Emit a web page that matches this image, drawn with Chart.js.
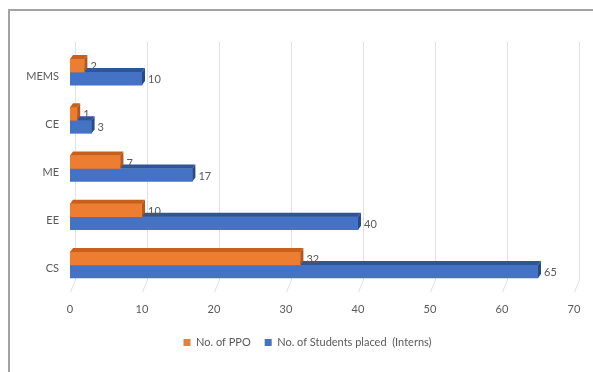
<!DOCTYPE html>
<html>
<head>
<meta charset="utf-8">
<script src="https://cdn.jsdelivr.net/npm/chart.js@4.4.1/dist/chart.umd.min.js"></script>
<style>
  html, body { margin: 0; padding: 0; background: #fff; }
  #wrap { position: relative; width: 593px; height: 372px; overflow: hidden; }
  #frame { position: absolute; left: 8px; top: 9px; width: 700px; height: 500px;
           border-left: 2px solid #a3a3a3; border-top: 2px solid #a3a3a3; }
  canvas { position: absolute; left: 0; top: 0; }
</style>
</head>
<body>
<div id="wrap">
  <div id="frame"></div>
  <canvas id="placements" width="593" height="372"></canvas>
</div>
<script>
const departments = ['MEMS', 'CE', 'ME', 'EE', 'CS'];
const ppo_counts = [2, 1, 7, 10, 32];
const interns_placed = [10, 3, 17, 40, 65];
const x_ticks = [0, 10, 20, 30, 40, 50, 60, 70];

const text_color = '#595959';
const base_font = { family: 'Lato', size: 11 };
// front / top / side colours for the fake 3d bars
const faces = [
  { front: '#ed7d31', top: '#c8601c', side: '#b5561a' },
  { front: '#4472c4', top: '#2f5597', side: '#274a86' }
];
const dx = 3, dy = 4;

const bar_3d = {
  id: 'bar_3d',
  beforeDatasetsDraw(chart) {
    const ctx = chart.ctx;
    const xs = chart.scales.x;
    const area = chart.chartArea;
    ctx.save();
    ctx.strokeStyle = '#dde3ea';
    ctx.lineWidth = 1;
    xs.ticks.forEach(t => {
      const px = Math.round(xs.getPixelForValue(t.value)) + 0.5;
      ctx.beginPath();
      ctx.moveTo(px + 5, area.top - 6);
      ctx.lineTo(px + 5, area.bottom - 9);
      ctx.lineTo(px, area.bottom + 3);
      ctx.stroke();
    });
    ctx.restore();
  },
  afterDatasetDraw(chart, args) {
    const ctx = chart.ctx;
    const f = faces[args.index];
    const values = chart.data.datasets[args.index].data;
    ctx.save();
    args.meta.data.forEach((bar, i) => {
      const top = bar.y - bar.height / 2;
      const bottom = bar.y + bar.height / 2;
      const x0 = bar.base, x1 = bar.x;
      ctx.fillStyle = f.top;
      ctx.beginPath();
      ctx.moveTo(x0, top);
      ctx.lineTo(x0 + dx, top - dy);
      ctx.lineTo(x1 + dx, top - dy);
      ctx.lineTo(x1, top);
      ctx.closePath();
      ctx.fill();
      ctx.fillStyle = f.side;
      ctx.beginPath();
      ctx.moveTo(x1, top);
      ctx.lineTo(x1 + dx, top - dy);
      ctx.lineTo(x1 + dx, bottom - dy);
      ctx.lineTo(x1, bottom);
      ctx.closePath();
      ctx.fill();
      ctx.fillStyle = text_color;
      ctx.font = '11px Lato';
      ctx.textBaseline = 'middle';
      ctx.textAlign = 'left';
      ctx.fillText(String(values[i]), x1 + dx + 3, bar.y + 1);
    });
    ctx.restore();
  }
};

new Chart(document.getElementById('placements'), {
  type: 'bar',
  data: {
    labels: departments,
    datasets: [{
      label: 'No. of PPO',
      data: ppo_counts,
      backgroundColor: faces[0].front,
      barThickness: 13
    }, {
      label: 'No. of Students placed  (Interns)',
      data: interns_placed,
      backgroundColor: faces[1].front,
      barThickness: 13
    }]
  },
  options: {
    responsive: false,
    animation: false,
    indexAxis: 'y',
    layout: { padding: { left: 22, top: 48, right: 0, bottom: 14 } },
    scales: {
      x: {
        min: 0,
        max: 70,
        afterBuildTicks: s => { s.ticks = x_ticks.map(v => ({ value: v })); },
        afterFit: s => { s.height = 34; s.paddingRight = 19; },
        ticks: { padding: 14, color: text_color, font: base_font },
        grid: { display: false, drawTicks: false },
        border: { display: false }
      },
      y: {
        afterFit: s => { s.width = 48; },
        ticks: { padding: 11, labelOffset: 4, color: text_color, font: base_font },
        grid: { display: false, drawTicks: false },
        border: { display: false }
      }
    },
    plugins: {
      legend: {
        position: 'bottom',
        labels: { boxWidth: 7, boxHeight: 7, padding: 14, color: text_color, font: base_font }
      },
      tooltip: { enabled: false }
    }
  },
  plugins: [bar_3d]
});
</script>
</body>
</html>
